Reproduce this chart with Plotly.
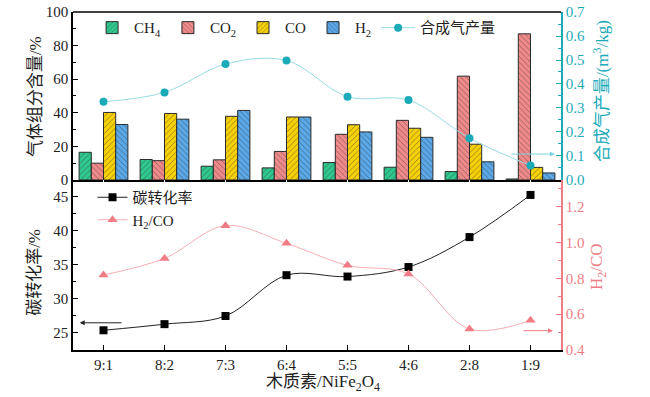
import plotly.graph_objects as go

categories = ["9:1", "8:2", "7:3", "6:4", "5:5", "4:6", "2:8", "1:9"]
ch4 = [16.5, 12.2, 8.2, 7.2, 10.4, 7.6, 5.0, 0.6]
co2 = [10.0, 11.5, 12.0, 17.0, 27.2, 35.5, 61.8, 87.0]
co = [40.2, 39.6, 37.9, 37.5, 32.9, 30.8, 21.3, 7.5]
h2 = [33.0, 36.2, 41.4, 37.5, 28.6, 25.4, 10.8, 4.2]
syngas_yield = [0.326, 0.365, 0.483, 0.498, 0.347, 0.333, 0.174, 0.060]
carbon_conv = [25.4, 26.3, 27.5, 33.5, 33.3, 34.7, 39.1, 45.3]
h2_co = [0.819, 0.912, 1.095, 0.996, 0.873, 0.825, 0.517, 0.566]

FONT = "Liberation Serif, Times New Roman, Noto Sans CJK SC"
TEAL = "#1AAAB8"
PINK = "#F07C86"

fig = go.Figure()

bar_specs = [
    ("CH<sub>4</sub>", ch4, "#2FC98E", "/"),
    ("CO<sub>2</sub>", co2, "#F08A8A", "\\"),
    ("CO", co, "#F7D107", "/"),
    ("H<sub>2</sub>", h2, "#5AA8E8", "\\"),
]
for name, vals, col, shp in bar_specs:
    fig.add_trace(go.Bar(
        x=categories, y=vals, name=name, xaxis="x", yaxis="y",
        marker=dict(color=col, line=dict(color="#2a2a2a", width=1),
                    pattern=dict(shape=shp, fillmode="overlay", fgcolor="#333333",
                                 size=4, solidity=0.22)),
        legend="legend",
    ))

fig.add_trace(go.Scatter(
    x=categories, y=syngas_yield, name="合成气产量", xaxis="x", yaxis="y3",
    mode="lines+markers", line=dict(color="#9ADCE4", width=1, shape="spline"),
    marker=dict(color=TEAL, size=8, symbol="circle"), legend="legend",
))

fig.add_trace(go.Scatter(
    x=categories, y=carbon_conv, name="碳转化率", xaxis="x2", yaxis="y2",
    mode="lines+markers", line=dict(color="#222222", width=1, shape="spline"),
    marker=dict(color="black", size=8, symbol="square"), legend="legend2",
))
fig.add_trace(go.Scatter(
    x=categories, y=h2_co, name="H<sub>2</sub>/CO", xaxis="x2", yaxis="y4",
    mode="lines+markers", line=dict(color="#F6AEB3", width=1, shape="spline"),
    marker=dict(color=PINK, size=9, symbol="triangle-up"), legend="legend2",
))

split = 0.503
tickfont = dict(family=FONT, size=15, color="#222")

fig.update_layout(
    width=650, height=397,
    margin=dict(l=73, r=89, t=12, b=47, autoexpand=False),
    paper_bgcolor="white", plot_bgcolor="white",
    font=dict(family=FONT, size=15, color="#222"),
    barmode="group", bargap=0.2, bargroupgap=0,
    xaxis=dict(domain=[0, 1], anchor="y", type="category", range=[-0.5, 7.5],
               showticklabels=False, showline=True, linecolor="black", linewidth=1.5,
               ticks="outside", ticklen=4, tickcolor="black", mirror=False, automargin=False),
    xaxis2=dict(domain=[0, 1], anchor="y2", type="category", range=[-0.5, 7.5],
                matches="x", showline=True, linecolor="black", linewidth=1.5,
                ticks="inside", ticklen=5, tickcolor="black", tickfont=tickfont, automargin=False,
                minor=dict(ticks="inside", ticklen=3, tickcolor="black")),
    yaxis=dict(domain=[split, 1], anchor="x", range=[0, 100], dtick=20, automargin=False,
               ticklabeloverflow="allow",
               showline=True, linecolor="black", linewidth=1.5, ticks="inside",
               ticklen=5, tickcolor="black", showgrid=False, zeroline=False,
               tickfont=tickfont, minor=dict(ticks="inside", ticklen=3, dtick=10, tickcolor="black")),
    yaxis3=dict(overlaying="y", side="right", anchor="x", range=[0, 0.7], dtick=0.1, automargin=False,
                ticklabeloverflow="allow",
                tickformat=".1f", showline=True, linecolor=TEAL, linewidth=1.5,
                ticks="inside", ticklen=5, tickcolor=TEAL, showgrid=False, zeroline=False,
                tickfont=dict(family=FONT, size=15, color=TEAL),
                minor=dict(ticks="inside", ticklen=3, dtick=0.05, tickcolor=TEAL)),
    yaxis2=dict(domain=[0, split], anchor="x2", range=[22.5, 47.5], dtick=5, tick0=25, automargin=False,
                showline=True, linecolor="black", linewidth=1.5, ticks="inside",
                ticklen=5, tickcolor="black", showgrid=False, zeroline=False,
                tickfont=tickfont, minor=dict(ticks="inside", ticklen=3, dtick=2.5, tickcolor="black")),
    yaxis4=dict(overlaying="y2", side="right", anchor="x2", range=[0.4, 1.35], automargin=False,
                tickvals=[0.4, 0.6, 0.8, 1.0, 1.2], tickformat=".1f",
                showline=True, linecolor=PINK, linewidth=1.5, ticks="inside",
                ticklen=5, tickcolor=PINK, showgrid=False, zeroline=False,
                tickfont=dict(family=FONT, size=15, color=PINK),
                minor=dict(ticks="inside", ticklen=3, tickvals=[0.5, 0.7, 0.9, 1.1, 1.3], tickcolor=PINK)),
    legend=dict(orientation="h", x=0.035, y=0.953, xanchor="left", yanchor="middle",
                bgcolor="rgba(0,0,0,0)", font=dict(family=FONT, size=15, color="#222"),
                itemwidth=34, tracegroupgap=0),
    legend2=dict(orientation="v", x=0.04, y=0.5, xanchor="left", yanchor="top",
                 bgcolor="rgba(0,0,0,0)", font=dict(family=FONT, size=15, color="#222"),
                 itemwidth=30),
    showlegend=True,
)

fig.add_shape(type="line", xref="paper", yref="paper", x0=0, x1=1, y0=1, y1=1,
              line=dict(color="black", width=1.5))

annots = [
    dict(text="气体组分含量/%", x=-0.078, y=0.751, textangle=-90, color="#222"),
    dict(text="碳转化率/%", x=-0.078, y=0.231, textangle=-90, color="#222"),
    dict(text="合成气产量/(m<sup>3</sup>/kg)", x=1.082, y=0.766, textangle=-90, color=TEAL),
    dict(text="H<sub>2</sub>/CO", x=1.076, y=0.246, textangle=-90, color=PINK),
    dict(text="木质素/NiFe<sub>2</sub>O<sub>4</sub>", x=0.512, y=-0.098, textangle=0, color="#222"),
]
for a in annots:
    fig.add_annotation(text=a["text"], x=a["x"], y=a["y"], xref="paper", yref="paper",
                       textangle=a["textangle"], showarrow=False, xanchor="center",
                       yanchor="middle", font=dict(family=FONT, size=17, color=a["color"]))

fig.add_annotation(x=-0.39, y=26.5, ax=0.32, ay=26.5, xref="x2", yref="y2",
                   axref="x2", ayref="y2", text="", showarrow=True, arrowhead=2,
                   arrowsize=1, arrowwidth=1, arrowcolor="#222")
fig.add_annotation(x=7.37, y=0.508, ax=6.86, ay=0.508, xref="x2", yref="y4",
                   axref="x2", ayref="y4", text="", showarrow=True, arrowhead=2,
                   arrowsize=1, arrowwidth=1, arrowcolor=PINK)
fig.add_annotation(x=7.4, y=0.108, ax=6.66, ay=0.108, xref="x", yref="y3",
                   axref="x", ayref="y3", text="", showarrow=True, arrowhead=2,
                   arrowsize=1, arrowwidth=1, arrowcolor="#7FD3DD")

fig.write_html("out.html", config={"displayModeBar": False},
               post_script="document.body.style.margin='0';")
